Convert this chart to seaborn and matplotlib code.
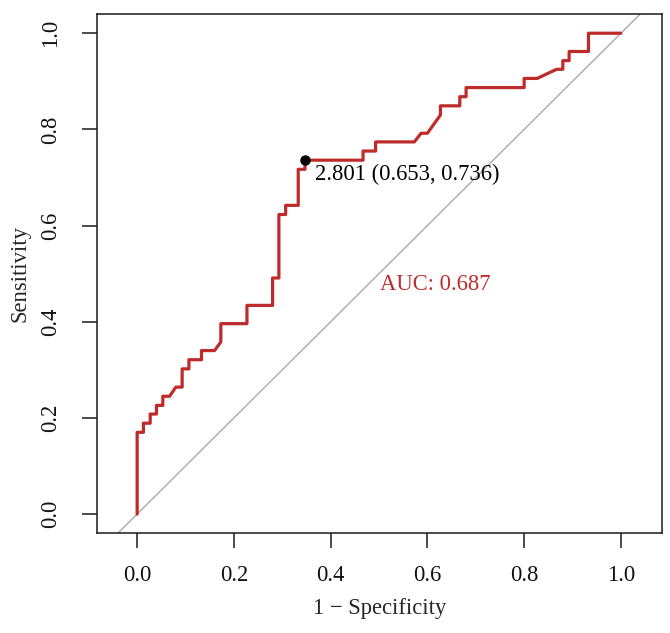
import numpy as np
import pandas as pd
import matplotlib
matplotlib.use("Agg")
import matplotlib.pyplot as plt
import seaborn as sns

# ROC curve vertices (1 - specificity, sensitivity)
fpr = [0, 0, 0.013, 0.013, 0.027, 0.027, 0.040, 0.040, 0.053, 0.053,
       0.067, 0.080, 0.093, 0.093, 0.107, 0.107, 0.133, 0.133, 0.160, 0.173,
       0.173, 0.227, 0.227, 0.280, 0.280, 0.293, 0.293, 0.307, 0.307, 0.333,
       0.333, 0.347, 0.347, 0.467, 0.467, 0.493, 0.493, 0.573, 0.587, 0.600,
       0.627, 0.627, 0.667, 0.667, 0.680, 0.680, 0.800, 0.800, 0.827, 0.867,
       0.880, 0.880, 0.893, 0.893, 0.933, 0.933, 1.0]
tpr = [0, 0.170, 0.170, 0.189, 0.189, 0.208, 0.208, 0.226, 0.226, 0.245,
       0.245, 0.264, 0.264, 0.302, 0.302, 0.321, 0.321, 0.340, 0.340, 0.358,
       0.396, 0.396, 0.434, 0.434, 0.491, 0.491, 0.623, 0.623, 0.642, 0.642,
       0.717, 0.717, 0.736, 0.736, 0.755, 0.755, 0.774, 0.774, 0.792, 0.792,
       0.830, 0.849, 0.849, 0.868, 0.868, 0.887, 0.887, 0.906, 0.906, 0.925,
       0.925, 0.943, 0.943, 0.962, 0.962, 1.0, 1.0]

best_threshold = 2.801
best_spec = 0.653
best_sens = 0.736
auc_value = 0.687

ticks = [0.0, 0.2, 0.4, 0.6, 0.8, 1.0]
tick_labels = ["0.0", "0.2", "0.4", "0.6", "0.8", "1.0"]

df = pd.DataFrame({"fpr": fpr, "tpr": tpr})

sns.set_theme(style="white")
plt.rcParams["font.family"] = ["Liberation Serif", "DejaVu Serif"]

curve_col = "#BE2B2B"
fs = 16.3

fig = plt.figure(figsize=(6.7, 6.33), dpi=100)
ax = fig.add_axes([97 / 670, 1 - 533.3 / 633, 565 / 670, 519.3 / 633])

# chance line
ax.axline((0, 0), slope=1, color="#AAAAAA", linewidth=1.0, zorder=1)

sns.lineplot(data=df, x="fpr", y="tpr", sort=False, estimator=None,
             color=curve_col, linewidth=2.3, ax=ax, zorder=2)

ax.plot([1 - best_spec], [best_sens], "o", color="black", markersize=6.5, zorder=3)
ax.text(1 - best_spec + 0.021, best_sens - 0.029,
        f"{best_threshold:.3f} ({best_spec:.3f}, {best_sens:.3f})",
        ha="left", va="center", fontsize=fs, color="black")
ax.text(0.502, 0.477, f"AUC: {auc_value:.3f}", ha="left", va="center",
        fontsize=fs, color=curve_col)

ax.set_xlim(-0.083, 1.085)
ax.set_ylim(-0.04, 1.04)
ax.set_xticks(ticks)
ax.set_xticklabels(tick_labels)
ax.set_yticks(ticks)
ax.set_yticklabels(tick_labels, rotation=90, va="center")

ax.set_xlabel("1 \u2212 Specificity", fontsize=fs, labelpad=9)
ax.set_ylabel("Sensitivity", fontsize=fs, labelpad=7)

for s in ax.spines.values():
    s.set_visible(True)
    s.set_color("#1A1A1A")
    s.set_linewidth(1.1)
ax.tick_params(axis="both", direction="out", length=10.8, width=1.1,
               color="#1A1A1A", labelcolor="#111111", labelsize=fs,
               bottom=True, left=True)
ax.tick_params(axis="x", pad=12)
ax.tick_params(axis="y", pad=15)
ax.grid(False)

fig.savefig("out.png", dpi=100)
